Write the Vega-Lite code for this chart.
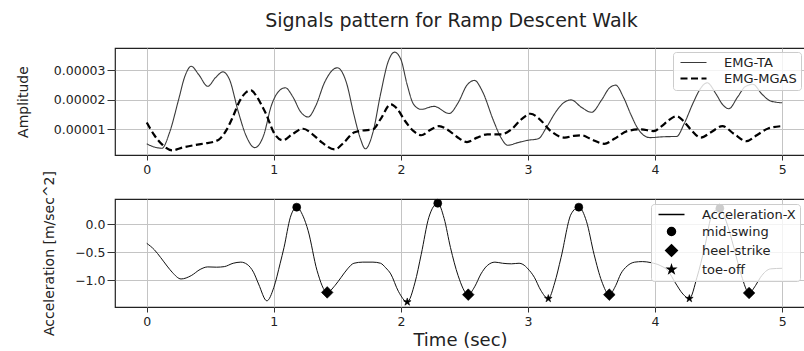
{
  "$schema": "https://vega.github.io/schema/vega-lite/v6.json",
  "background": "white",
  "padding": {"left": 15, "top": 12, "right": 0, "bottom": 0},
  "title": {"text": "Signals pattern for Ramp Descent Walk", "font": "DejaVu Sans", "fontSize": 19, "fontWeight": "normal", "color": "#222", "anchor": "middle", "offset": 16, "dx": 41},
  "bounds": "flush",
  "spacing": 44,
  "resolve": {
    "scale": {"shape": "independent", "strokeDash": "independent", "strokeWidth": "independent", "color": "independent"},
    "legend": {"shape": "independent", "strokeDash": "independent", "strokeWidth": "independent", "color": "independent"}
  },
  "config": {
    "font": "DejaVu Sans",
    "view": {"stroke": "#222", "strokeWidth": 1.2},
    "axis": {"domain": false, "grid": true, "gridColor": "#c4c4c4", "gridWidth": 1, "tickColor": "#333", "tickWidth": 1, "labelColor": "#222", "labelFont": "DejaVu Sans", "labelFontSize": 12.5, "titleFont": "DejaVu Sans", "titleFontWeight": "normal", "titleColor": "#222"},
    "legend": {"title": null, "labelFont": "DejaVu Sans", "labelFontSize": 13, "labelColor": "#222", "strokeColor": "#cccccc", "fillColor": "rgba(255,255,255,0.8)", "cornerRadius": 3, "padding": 4, "rowPadding": 2, "orient": "top-right", "offset": 4, "symbolSize": 64, "symbolOffset": 10, "labelOffset": 24}
  },
  "datasets": {
    "emg": [
      {"t": 0.00, "v": 5.1e-6, "series": "EMG-TA"},
      {"t": 0.06, "v": 4.0e-6, "series": "EMG-TA"},
      {"t": 0.12, "v": 3.6e-6, "series": "EMG-TA"},
      {"t": 0.18, "v": 9.0e-6, "series": "EMG-TA"},
      {"t": 0.25, "v": 2.0e-5, "series": "EMG-TA"},
      {"t": 0.30, "v": 2.8e-5, "series": "EMG-TA"},
      {"t": 0.35, "v": 3.14e-5, "series": "EMG-TA"},
      {"t": 0.41, "v": 2.85e-5, "series": "EMG-TA"},
      {"t": 0.48, "v": 2.46e-5, "series": "EMG-TA"},
      {"t": 0.54, "v": 2.75e-5, "series": "EMG-TA"},
      {"t": 0.60, "v": 2.95e-5, "series": "EMG-TA"},
      {"t": 0.65, "v": 2.7e-5, "series": "EMG-TA"},
      {"t": 0.72, "v": 1.6e-5, "series": "EMG-TA"},
      {"t": 0.78, "v": 8.0e-6, "series": "EMG-TA"},
      {"t": 0.85, "v": 3.8e-6, "series": "EMG-TA"},
      {"t": 0.92, "v": 8.0e-6, "series": "EMG-TA"},
      {"t": 0.98, "v": 1.8e-5, "series": "EMG-TA"},
      {"t": 1.04, "v": 2.3e-5, "series": "EMG-TA"},
      {"t": 1.09, "v": 2.41e-5, "series": "EMG-TA"},
      {"t": 1.15, "v": 2.1e-5, "series": "EMG-TA"},
      {"t": 1.21, "v": 1.6e-5, "series": "EMG-TA"},
      {"t": 1.27, "v": 1.42e-5, "series": "EMG-TA"},
      {"t": 1.33, "v": 1.8e-5, "series": "EMG-TA"},
      {"t": 1.40, "v": 2.6e-5, "series": "EMG-TA"},
      {"t": 1.50, "v": 3.09e-5, "series": "EMG-TA"},
      {"t": 1.57, "v": 2.6e-5, "series": "EMG-TA"},
      {"t": 1.63, "v": 1.5e-5, "series": "EMG-TA"},
      {"t": 1.68, "v": 7.0e-6, "series": "EMG-TA"},
      {"t": 1.72, "v": 3.4e-6, "series": "EMG-TA"},
      {"t": 1.78, "v": 9.0e-6, "series": "EMG-TA"},
      {"t": 1.84, "v": 2.2e-5, "series": "EMG-TA"},
      {"t": 1.90, "v": 3.3e-5, "series": "EMG-TA"},
      {"t": 1.95, "v": 3.62e-5, "series": "EMG-TA"},
      {"t": 2.00, "v": 3.37e-5, "series": "EMG-TA"},
      {"t": 2.05, "v": 2.5e-5, "series": "EMG-TA"},
      {"t": 2.10, "v": 1.85e-5, "series": "EMG-TA"},
      {"t": 2.16, "v": 1.68e-5, "series": "EMG-TA"},
      {"t": 2.26, "v": 1.78e-5, "series": "EMG-TA"},
      {"t": 2.38, "v": 1.54e-5, "series": "EMG-TA"},
      {"t": 2.45, "v": 1.9e-5, "series": "EMG-TA"},
      {"t": 2.52, "v": 2.5e-5, "series": "EMG-TA"},
      {"t": 2.58, "v": 2.66e-5, "series": "EMG-TA"},
      {"t": 2.64, "v": 2.3e-5, "series": "EMG-TA"},
      {"t": 2.73, "v": 1.28e-5, "series": "EMG-TA"},
      {"t": 2.79, "v": 7.0e-6, "series": "EMG-TA"},
      {"t": 2.84, "v": 4.6e-6, "series": "EMG-TA"},
      {"t": 2.92, "v": 5.5e-6, "series": "EMG-TA"},
      {"t": 3.00, "v": 6.3e-6, "series": "EMG-TA"},
      {"t": 3.08, "v": 6.8e-6, "series": "EMG-TA"},
      {"t": 3.15, "v": 1.1e-5, "series": "EMG-TA"},
      {"t": 3.22, "v": 1.6e-5, "series": "EMG-TA"},
      {"t": 3.28, "v": 1.9e-5, "series": "EMG-TA"},
      {"t": 3.34, "v": 2.0e-5, "series": "EMG-TA"},
      {"t": 3.42, "v": 1.75e-5, "series": "EMG-TA"},
      {"t": 3.50, "v": 1.58e-5, "series": "EMG-TA"},
      {"t": 3.58, "v": 2.0e-5, "series": "EMG-TA"},
      {"t": 3.64, "v": 2.4e-5, "series": "EMG-TA"},
      {"t": 3.69, "v": 2.5e-5, "series": "EMG-TA"},
      {"t": 3.75, "v": 2.1e-5, "series": "EMG-TA"},
      {"t": 3.81, "v": 1.5e-5, "series": "EMG-TA"},
      {"t": 3.86, "v": 1.06e-5, "series": "EMG-TA"},
      {"t": 3.91, "v": 8.0e-6, "series": "EMG-TA"},
      {"t": 3.96, "v": 7.2e-6, "series": "EMG-TA"},
      {"t": 4.07, "v": 7.5e-6, "series": "EMG-TA"},
      {"t": 4.17, "v": 7.6e-6, "series": "EMG-TA"},
      {"t": 4.23, "v": 1.2e-5, "series": "EMG-TA"},
      {"t": 4.30, "v": 1.9e-5, "series": "EMG-TA"},
      {"t": 4.36, "v": 2.4e-5, "series": "EMG-TA"},
      {"t": 4.41, "v": 2.58e-5, "series": "EMG-TA"},
      {"t": 4.48, "v": 2.2e-5, "series": "EMG-TA"},
      {"t": 4.53, "v": 1.85e-5, "series": "EMG-TA"},
      {"t": 4.58, "v": 1.7e-5, "series": "EMG-TA"},
      {"t": 4.65, "v": 2.1e-5, "series": "EMG-TA"},
      {"t": 4.71, "v": 2.45e-5, "series": "EMG-TA"},
      {"t": 4.77, "v": 2.53e-5, "series": "EMG-TA"},
      {"t": 4.84, "v": 2.2e-5, "series": "EMG-TA"},
      {"t": 4.91, "v": 1.96e-5, "series": "EMG-TA"},
      {"t": 5.00, "v": 1.9e-5, "series": "EMG-TA"},
      {"t": 0.00, "v": 1.23e-5, "series": "EMG-MGAS"},
      {"t": 0.06, "v": 8.0e-6, "series": "EMG-MGAS"},
      {"t": 0.12, "v": 4.9e-6, "series": "EMG-MGAS"},
      {"t": 0.20, "v": 2.9e-6, "series": "EMG-MGAS"},
      {"t": 0.28, "v": 3.8e-6, "series": "EMG-MGAS"},
      {"t": 0.37, "v": 4.6e-6, "series": "EMG-MGAS"},
      {"t": 0.45, "v": 5.2e-6, "series": "EMG-MGAS"},
      {"t": 0.53, "v": 5.8e-6, "series": "EMG-MGAS"},
      {"t": 0.58, "v": 7.0e-6, "series": "EMG-MGAS"},
      {"t": 0.63, "v": 1.0e-5, "series": "EMG-MGAS"},
      {"t": 0.68, "v": 1.45e-5, "series": "EMG-MGAS"},
      {"t": 0.73, "v": 1.95e-5, "series": "EMG-MGAS"},
      {"t": 0.78, "v": 2.25e-5, "series": "EMG-MGAS"},
      {"t": 0.82, "v": 2.32e-5, "series": "EMG-MGAS"},
      {"t": 0.86, "v": 2.15e-5, "series": "EMG-MGAS"},
      {"t": 0.90, "v": 1.85e-5, "series": "EMG-MGAS"},
      {"t": 0.94, "v": 1.51e-5, "series": "EMG-MGAS"},
      {"t": 1.00, "v": 8.9e-6, "series": "EMG-MGAS"},
      {"t": 1.07, "v": 6.3e-6, "series": "EMG-MGAS"},
      {"t": 1.15, "v": 8.5e-6, "series": "EMG-MGAS"},
      {"t": 1.23, "v": 1.02e-5, "series": "EMG-MGAS"},
      {"t": 1.30, "v": 8.5e-6, "series": "EMG-MGAS"},
      {"t": 1.38, "v": 5.5e-6, "series": "EMG-MGAS"},
      {"t": 1.48, "v": 3.2e-6, "series": "EMG-MGAS"},
      {"t": 1.55, "v": 5.5e-6, "series": "EMG-MGAS"},
      {"t": 1.63, "v": 8.9e-6, "series": "EMG-MGAS"},
      {"t": 1.70, "v": 9.6e-6, "series": "EMG-MGAS"},
      {"t": 1.78, "v": 1.0e-5, "series": "EMG-MGAS"},
      {"t": 1.84, "v": 1.35e-5, "series": "EMG-MGAS"},
      {"t": 1.92, "v": 1.85e-5, "series": "EMG-MGAS"},
      {"t": 1.97, "v": 1.7e-5, "series": "EMG-MGAS"},
      {"t": 2.03, "v": 1.3e-5, "series": "EMG-MGAS"},
      {"t": 2.10, "v": 9.4e-6, "series": "EMG-MGAS"},
      {"t": 2.16, "v": 8.0e-6, "series": "EMG-MGAS"},
      {"t": 2.23, "v": 9.8e-6, "series": "EMG-MGAS"},
      {"t": 2.30, "v": 1.11e-5, "series": "EMG-MGAS"},
      {"t": 2.37, "v": 9.8e-6, "series": "EMG-MGAS"},
      {"t": 2.44, "v": 7.5e-6, "series": "EMG-MGAS"},
      {"t": 2.52, "v": 5.7e-6, "series": "EMG-MGAS"},
      {"t": 2.60, "v": 7.2e-6, "series": "EMG-MGAS"},
      {"t": 2.68, "v": 8.3e-6, "series": "EMG-MGAS"},
      {"t": 2.79, "v": 8.3e-6, "series": "EMG-MGAS"},
      {"t": 2.87, "v": 1.0e-5, "series": "EMG-MGAS"},
      {"t": 2.95, "v": 1.35e-5, "series": "EMG-MGAS"},
      {"t": 3.02, "v": 1.53e-5, "series": "EMG-MGAS"},
      {"t": 3.09, "v": 1.35e-5, "series": "EMG-MGAS"},
      {"t": 3.18, "v": 9.4e-6, "series": "EMG-MGAS"},
      {"t": 3.29, "v": 7.2e-6, "series": "EMG-MGAS"},
      {"t": 3.36, "v": 7.8e-6, "series": "EMG-MGAS"},
      {"t": 3.42, "v": 8.0e-6, "series": "EMG-MGAS"},
      {"t": 3.50, "v": 6.6e-6, "series": "EMG-MGAS"},
      {"t": 3.60, "v": 5.1e-6, "series": "EMG-MGAS"},
      {"t": 3.68, "v": 6.8e-6, "series": "EMG-MGAS"},
      {"t": 3.78, "v": 9.4e-6, "series": "EMG-MGAS"},
      {"t": 3.89, "v": 1.0e-5, "series": "EMG-MGAS"},
      {"t": 3.99, "v": 9.4e-6, "series": "EMG-MGAS"},
      {"t": 4.05, "v": 1.1e-5, "series": "EMG-MGAS"},
      {"t": 4.10, "v": 1.28e-5, "series": "EMG-MGAS"},
      {"t": 4.17, "v": 1.45e-5, "series": "EMG-MGAS"},
      {"t": 4.23, "v": 1.25e-5, "series": "EMG-MGAS"},
      {"t": 4.28, "v": 1.0e-5, "series": "EMG-MGAS"},
      {"t": 4.36, "v": 7.2e-6, "series": "EMG-MGAS"},
      {"t": 4.44, "v": 9.0e-6, "series": "EMG-MGAS"},
      {"t": 4.53, "v": 1.11e-5, "series": "EMG-MGAS"},
      {"t": 4.62, "v": 8.5e-6, "series": "EMG-MGAS"},
      {"t": 4.72, "v": 6.0e-6, "series": "EMG-MGAS"},
      {"t": 4.80, "v": 8.0e-6, "series": "EMG-MGAS"},
      {"t": 4.89, "v": 1.03e-5, "series": "EMG-MGAS"},
      {"t": 5.00, "v": 1.11e-5, "series": "EMG-MGAS"}
    ],
    "acc": [
      {"t": 0.00, "a": -0.345}, {"t": 0.06, "a": -0.46}, {"t": 0.11, "a": -0.60}, {"t": 0.16, "a": -0.75},
      {"t": 0.20, "a": -0.86}, {"t": 0.27, "a": -0.98}, {"t": 0.35, "a": -0.92}, {"t": 0.42, "a": -0.81},
      {"t": 0.48, "a": -0.765}, {"t": 0.55, "a": -0.77}, {"t": 0.61, "a": -0.76}, {"t": 0.68, "a": -0.70},
      {"t": 0.74, "a": -0.68}, {"t": 0.79, "a": -0.72}, {"t": 0.84, "a": -0.86}, {"t": 0.88, "a": -1.07},
      {"t": 0.945, "a": -1.37}, {"t": 1.00, "a": -1.13}, {"t": 1.05, "a": -0.70}, {"t": 1.08, "a": -0.42},
      {"t": 1.13, "a": 0.12}, {"t": 1.18, "a": 0.30}, {"t": 1.23, "a": 0.14}, {"t": 1.27, "a": -0.12},
      {"t": 1.34, "a": -0.83}, {"t": 1.42, "a": -1.22}, {"t": 1.48, "a": -1.10}, {"t": 1.53, "a": -0.95},
      {"t": 1.58, "a": -0.80}, {"t": 1.63, "a": -0.70}, {"t": 1.70, "a": -0.68}, {"t": 1.78, "a": -0.68},
      {"t": 1.84, "a": -0.70}, {"t": 1.88, "a": -0.78}, {"t": 1.92, "a": -0.89}, {"t": 1.98, "a": -1.20},
      {"t": 2.05, "a": -1.39}, {"t": 2.11, "a": -1.05}, {"t": 2.16, "a": -0.54}, {"t": 2.22, "a": 0.12},
      {"t": 2.29, "a": 0.37}, {"t": 2.34, "a": 0.10}, {"t": 2.39, "a": -0.42}, {"t": 2.45, "a": -0.92},
      {"t": 2.53, "a": -1.26}, {"t": 2.58, "a": -1.12}, {"t": 2.63, "a": -0.89}, {"t": 2.68, "a": -0.74},
      {"t": 2.74, "a": -0.68}, {"t": 2.80, "a": -0.70}, {"t": 2.87, "a": -0.71}, {"t": 2.93, "a": -0.70},
      {"t": 2.96, "a": -0.72}, {"t": 3.00, "a": -0.80}, {"t": 3.05, "a": -0.95}, {"t": 3.10, "a": -1.18},
      {"t": 3.16, "a": -1.33}, {"t": 3.21, "a": -1.05}, {"t": 3.26, "a": -0.60}, {"t": 3.34, "a": 0.18},
      {"t": 3.40, "a": 0.30}, {"t": 3.46, "a": 0.05}, {"t": 3.52, "a": -0.54}, {"t": 3.58, "a": -1.02},
      {"t": 3.64, "a": -1.26}, {"t": 3.69, "a": -1.10}, {"t": 3.73, "a": -0.89}, {"t": 3.78, "a": -0.75},
      {"t": 3.84, "a": -0.68}, {"t": 3.90, "a": -0.67}, {"t": 3.97, "a": -0.69}, {"t": 4.04, "a": -0.74},
      {"t": 4.10, "a": -0.83}, {"t": 4.16, "a": -1.05}, {"t": 4.22, "a": -1.25}, {"t": 4.27, "a": -1.33},
      {"t": 4.33, "a": -0.95}, {"t": 4.39, "a": -0.42}, {"t": 4.45, "a": 0.18}, {"t": 4.51, "a": 0.28},
      {"t": 4.56, "a": 0.05}, {"t": 4.62, "a": -0.42}, {"t": 4.68, "a": -0.92}, {"t": 4.74, "a": -1.23},
      {"t": 4.79, "a": -1.10}, {"t": 4.83, "a": -0.95}, {"t": 4.91, "a": -0.80}, {"t": 5.00, "a": -0.79}
    ],
    "events": [
      {"t": 1.18, "a": 0.30, "event": "mid-swing"},
      {"t": 2.29, "a": 0.37, "event": "mid-swing"},
      {"t": 3.40, "a": 0.30, "event": "mid-swing"},
      {"t": 4.51, "a": 0.28, "event": "mid-swing"},
      {"t": 1.42, "a": -1.22, "event": "heel-strike"},
      {"t": 2.53, "a": -1.26, "event": "heel-strike"},
      {"t": 3.64, "a": -1.26, "event": "heel-strike"},
      {"t": 4.74, "a": -1.23, "event": "heel-strike"},
      {"t": 2.05, "a": -1.39, "event": "toe-off"},
      {"t": 3.16, "a": -1.33, "event": "toe-off"},
      {"t": 4.27, "a": -1.33, "event": "toe-off"}
    ]
  },
  "vconcat": [
    {
      "width": 690,
      "height": 107,
      "data": {"name": "emg"},
      "mark": {"type": "line", "interpolate": "monotone"},
      "encoding": {
        "x": {"field": "t", "type": "quantitative", "scale": {"domain": [-0.25, 5.18], "nice": false, "zero": false},
              "axis": {"values": [0, 1, 2, 3, 4, 5], "format": "d", "title": null, "tickSize": 5, "labelPadding": 3}},
        "y": {"field": "v", "type": "quantitative", "scale": {"domain": [0.0000013, 0.0000376], "nice": false, "zero": false},
              "axis": {"values": [0.00001, 0.00002, 0.00003], "format": ".5f", "title": "Amplitude", "titleFontSize": 14, "tickSize": 8, "labelPadding": 2,
                       "titleX": -92, "titleY": 53.5, "titleAlign": "center", "titleBaseline": "middle", "titleAngle": -90}},
        "color": {"field": "series", "type": "nominal", "scale": {"domain": ["EMG-TA", "EMG-MGAS"], "range": ["#3a3a3a", "#000000"]},
                  "legend": {"symbolType": "M-3.25,0L3.25,0"}},
        "strokeDash": {"field": "series", "type": "nominal", "scale": {"domain": ["EMG-TA", "EMG-MGAS"], "range": [[1, 0], [7, 3.5]]},
                       "legend": {"symbolType": "M-3.25,0L3.25,0"}},
        "strokeWidth": {"field": "series", "type": "nominal", "scale": {"domain": ["EMG-TA", "EMG-MGAS"], "range": [1.1, 2.2]},
                        "legend": {"symbolType": "M-3.25,0L3.25,0"}}
      }
    },
    {
      "width": 690,
      "height": 108,
      "layer": [
        {
          "data": {"name": "acc"},
          "mark": {"type": "line", "interpolate": "monotone", "color": "#111", "strokeWidth": 1},
          "encoding": {
            "x": {"field": "t", "type": "quantitative", "scale": {"domain": [-0.25, 5.18], "nice": false, "zero": false},
                  "axis": {"values": [0, 1, 2, 3, 4, 5], "format": "d", "title": "Time (sec)", "titleFontSize": 18, "titlePadding": 4, "tickSize": 5, "labelPadding": 3}},
            "y": {"field": "a", "type": "quantitative", "scale": {"domain": [-1.48, 0.446], "nice": false, "zero": false},
                  "axis": {"values": [-1.0, -0.5, 0.0], "format": ".1f", "title": "Acceleration [m/sec^2]", "titleFontSize": 14, "tickSize": 8, "labelPadding": 2,
                           "titleX": -66, "titleY": 54, "titleAlign": "center", "titleBaseline": "middle", "titleAngle": -90}}
          }
        },
        {
          "data": {"name": "events"},
          "mark": {"type": "point", "filled": true, "fill": "black", "stroke": "black", "strokeWidth": 0.6, "opacity": 1, "size": 64},
          "encoding": {
            "x": {"field": "t", "type": "quantitative"},
            "y": {"field": "a", "type": "quantitative"},
            "shape": {"field": "event", "type": "nominal",
                      "scale": {"domain": ["Acceleration-X", "mid-swing", "heel-strike", "toe-off"],
                                "range": ["M-3.25,0L3.25,0", "circle", "M0,-1.45L1.45,0L0,1.45L-1.45,0Z", "M0,-1L0.2245,-0.309L0.951,-0.309L0.363,0.118L0.588,0.809L0,0.382L-0.588,0.809L-0.363,0.118L-0.951,-0.309L-0.2245,-0.309Z"]},
                      "legend": {"offset": 5, "rowPadding": 2, "encode": {"symbols": {"update": {"stroke": {"value": "#222"}, "strokeWidth": {"value": 1.2}, "fill": {"value": "black"}}}}}}
          }
        }
      ]
    }
  ]
}
